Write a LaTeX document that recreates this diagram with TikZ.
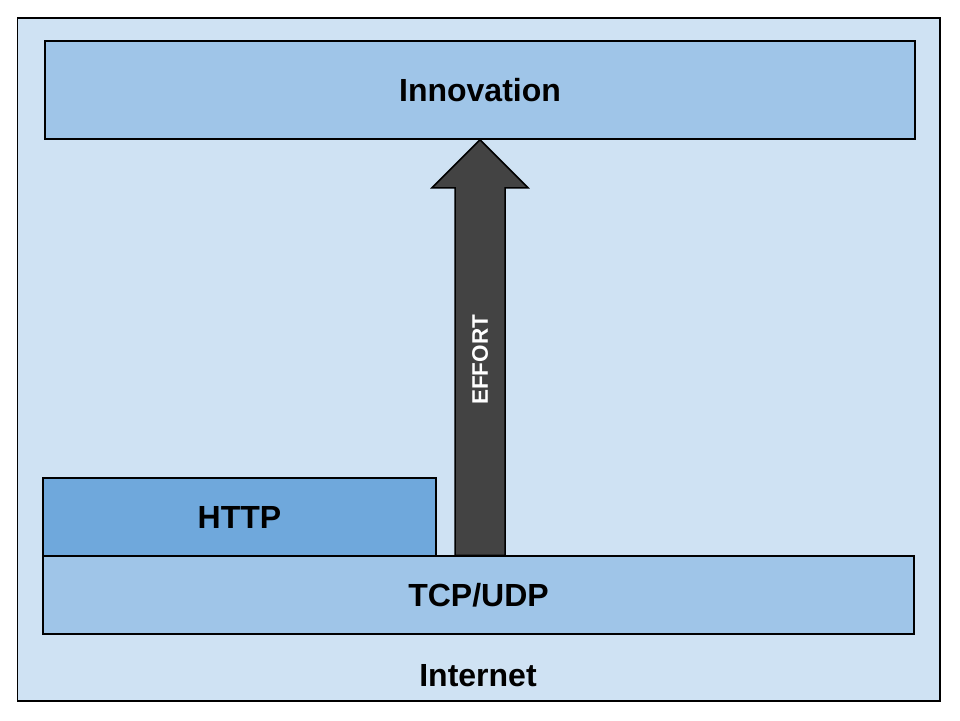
\documentclass[tikz,border=0pt]{standalone}
\usepackage{fontspec}
\setmainfont{Liberation Sans}
\usepackage{tikz}
\usetikzlibrary{positioning}
\usetikzlibrary{calc}
\definecolor{netblue}{HTML}{CFE2F3}
\definecolor{layerblue}{HTML}{9FC5E8}
\definecolor{httpblue}{HTML}{6FA8DC}
\definecolor{effortgrey}{HTML}{434343}
\tikzset{
	layer/.style={draw=black, line width=1.5pt, rectangle, inner sep=0pt, font=\fontsize{32}{36}\selectfont\bfseries},
	effortarrow/.style={draw=black, line width=1.5pt, fill=effortgrey, line join=miter}
}
\begin{document}
\begin{tikzpicture}[x=1pt, y=-1pt]
		\useasboundingbox (0,0) rectangle (960,720);
		\node at (478.75,359.5) [layer, fill=netblue, minimum width=922.5pt, minimum height=683pt] (net) {};
		\node at (478,676) [font=\fontsize{32}{36}\selectfont\bfseries] (netlabel) {Internet};
		\node at (480,90) [layer, fill=layerblue, minimum width=870pt, minimum height=98pt, text depth=0pt] (innov) {Innovation};
		\node at (478.5,595) [layer, fill=layerblue, minimum width=871pt, minimum height=78pt] (tcp) {TCP/UDP};
		\node at (239.5,517) [layer, fill=httpblue, minimum width=393pt, minimum height=78pt] (http) {HTTP};
		\coordinate (tip) at (innov.south);
		\coordinate (foot) at (tip |- tcp.north);
		\draw [effortarrow] (tip) -- ++(48,48) -- ++(-23,0) -- ($(foot)+(25,0)$) -- ($(foot)+(-25,0)$) -- ($(tip)+(-25,48)$) -- ++(-23,0) -- cycle;
		\node at ($(tip)!0.53!(foot)$) [rotate=90, text=white, font=\fontsize{22.5}{26}\selectfont\bfseries] (effort) {EFFORT}; % label on the shaft
\end{tikzpicture}
\end{document}
